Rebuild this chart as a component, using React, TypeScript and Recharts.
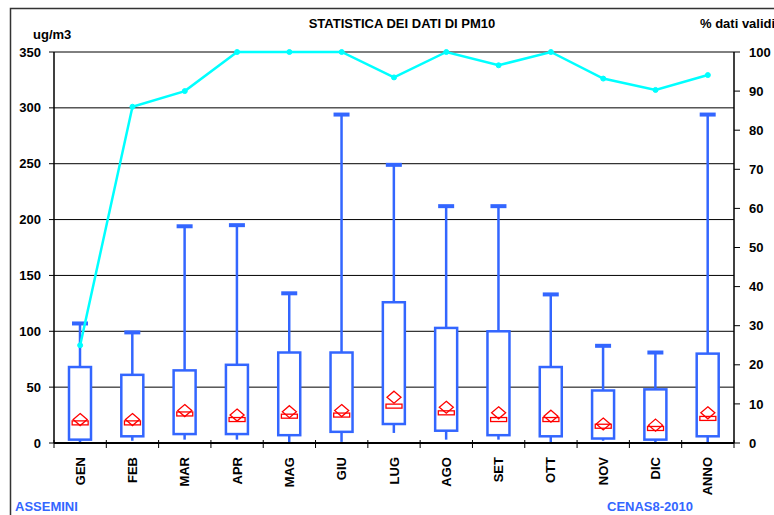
import React from 'react';
import {
  ComposedChart,
  Bar,
  Line,
  Scatter,
  XAxis,
  YAxis,
  CartesianGrid
} from 'recharts';

const categories = ['GEN', 'FEB', 'MAR', 'APR', 'MAG', 'GIU', 'LUG', 'AGO', 'SET', 'OTT', 'NOV', 'DIC', 'ANNO'];
// PM10 statistics, ug/m3
const maxValues = [107, 99, 194, 195, 134, 294, 249, 212, 212, 133, 87, 81, 294];
const q3Values = [68, 61, 65, 70, 81, 81, 126, 103, 100, 68, 47, 48, 80];
const q1Values = [3, 6, 8, 8, 7, 10, 17, 11, 7, 6, 4, 3, 6];
const minValues = [0.5, 2, 3, 3, 0, 1, 9, 3, 3, 0, 2, 0, 0];
const medianValues = [18, 18, 26, 21, 24, 25, 33, 27, 21, 21, 15, 13, 22];
const meanValues = [21, 21, 29, 25, 28, 29, 41, 32, 27, 24, 17, 16, 27];
// % dati validi
const validValues = [25, 86, 90, 100, 100, 100, 93.5, 100, 96.6, 100, 93.2, 90.3, 94.1];

const leftTicks = [0, 50, 100, 150, 200, 250, 300, 350];
const rightTicks = [0, 10, 20, 30, 40, 50, 60, 70, 80, 90, 100];

const BLUE = '#3366FF';
const RED = '#FF0000';
const CYAN = '#00FFFF';
const FONT = '"Liberation Sans", Arial, sans-serif';

const data = categories.map((name, i) => ({
  name,
  range: [minValues[i], maxValues[i]],
  min: minValues[i],
  max: maxValues[i],
  q1: q1Values[i],
  q3: q3Values[i],
  median: medianValues[i],
  mean: meanValues[i],
  valid: validValues[i]
}));

// box + whiskers, positions derived from the bar's own range geometry
const BoxShape = (props: any) => {
  const { x, y, width, height, payload } = props;
  const k = height / (payload.max - payload.min);
  const py = (v: number) => y + (payload.max - v) * k;
  const cx = x + width / 2;
  const top = py(payload.q3);
  const bottom = py(payload.q1);
  return (
    <g>
      <line x1={cx} x2={cx} y1={py(payload.max)} y2={top} stroke={BLUE} strokeWidth={2.5} />
      <line x1={cx} x2={cx} y1={bottom} y2={py(payload.min)} stroke={BLUE} strokeWidth={2.5} />
      <rect x={cx - 8} y={py(payload.max) - 2} width={16} height={4} fill={BLUE} />
      <rect x={x} y={top} width={width} height={bottom - top} fill="#fff" stroke={BLUE} strokeWidth={2.5} />
    </g>
  );
};

const MedianShape = (props: any) => {
  const { cx, cy } = props;
  return <rect x={cx - 8} y={cy - 2} width={16} height={4} fill="none" stroke={RED} strokeWidth={1.3} />;
};

const MeanShape = (props: any) => {
  const { cx, cy } = props;
  const pts = `${cx},${cy - 6} ${cx + 7},${cy} ${cx},${cy + 6} ${cx - 7},${cy}`;
  return <polygon points={pts} fill="none" stroke={RED} strokeWidth={1.3} />;
};

const CategoryTick = (props: any) => {
  const { x, y, payload, index } = props;
  const half = payload.offset ?? 26;
  return (
    <g>
      <line x1={x - half} x2={x - half} y1={y - 3} y2={y + 5} stroke="#000" strokeWidth={1} />
      {index === categories.length - 1 && (
        <line x1={x + half} x2={x + half} y1={y - 3} y2={y + 5} stroke="#000" strokeWidth={1} />
      )}
      <text
        x={x + 4.5}
        y={y + 14}
        transform={`rotate(-90, ${x + 4.5}, ${y + 14})`}
        textAnchor="end"
        fontSize={13}
        fontWeight={700}
        fontFamily={FONT}
        fill="#000"
      >
        {payload.value}
      </text>
    </g>
  );
};

const tickStyle = { fontSize: 13, fontWeight: 700, fill: '#000', fontFamily: FONT };

export default function App() {
  return (
    <div style={{ position: 'absolute', left: 0, top: 0, width: 774, height: 515, background: '#fff' }}>
      <ComposedChart width={774} height={515} data={data} margin={{ top: 52, right: 0, bottom: 0, left: 0 }}>
        <CartesianGrid yAxisId="left" vertical={false} stroke="#000" strokeWidth={1} />
        <XAxis
          dataKey="name"
          height={72}
          interval={0}
          tickSize={0}
          tickMargin={0}
          tickLine={false}
          axisLine={{ stroke: '#000', strokeWidth: 2 }}
          tick={<CategoryTick />}
        />
        <YAxis
          yAxisId="left"
          width={54}
          domain={[0, 350]}
          ticks={leftTicks}
          tickSize={5}
          tickMargin={8}
          tick={tickStyle}
          axisLine={{ stroke: '#000', strokeWidth: 1.5 }}
          tickLine={{ stroke: '#000' }}
        />
        <YAxis
          yAxisId="right"
          orientation="right"
          width={40}
          domain={[0, 100]}
          ticks={rightTicks}
          tickSize={6}
          tickMargin={9}
          tick={{ ...tickStyle, textAnchor: 'start' }}
          axisLine={{ stroke: '#000', strokeWidth: 1.5 }}
          tickLine={{ stroke: '#000' }}
        />
        <Bar yAxisId="left" dataKey="range" barSize={22} shape={<BoxShape />} isAnimationActive={false} />
        <Scatter yAxisId="left" dataKey="median" shape={<MedianShape />} isAnimationActive={false} />
        <Scatter yAxisId="left" dataKey="mean" shape={<MeanShape />} isAnimationActive={false} />
        <Line
          yAxisId="right"
          type="linear"
          dataKey="valid"
          stroke={CYAN}
          strokeWidth={2.5}
          dot={{ r: 2.5, fill: CYAN, stroke: CYAN, strokeWidth: 1 }}
          isAnimationActive={false}
        />
      </ComposedChart>
      <svg
        width={774}
        height={515}
        style={{ position: 'absolute', left: 0, top: 0, pointerEvents: 'none' }}
        fontFamily={FONT}
        fontWeight={700}
        fontSize={13}
      >
        <rect x={10.5} y={8.5} width={800} height={600} fill="none" stroke="#333" strokeWidth={1.5} />
        <text x={402} y={28} textAnchor="middle" fill="#000">STATISTICA DEI DATI DI PM10</text>
        <text x={33} y={39} fill="#000">ug/m3</text>
        <text x={700} y={28} fill="#000">% dati validi</text>
        <text x={15} y={511} fill={BLUE}>ASSEMINI</text>
        <text x={607} y={510.5} fill={BLUE}>CENAS8-2010</text>
      </svg>
    </div>
  );
}
